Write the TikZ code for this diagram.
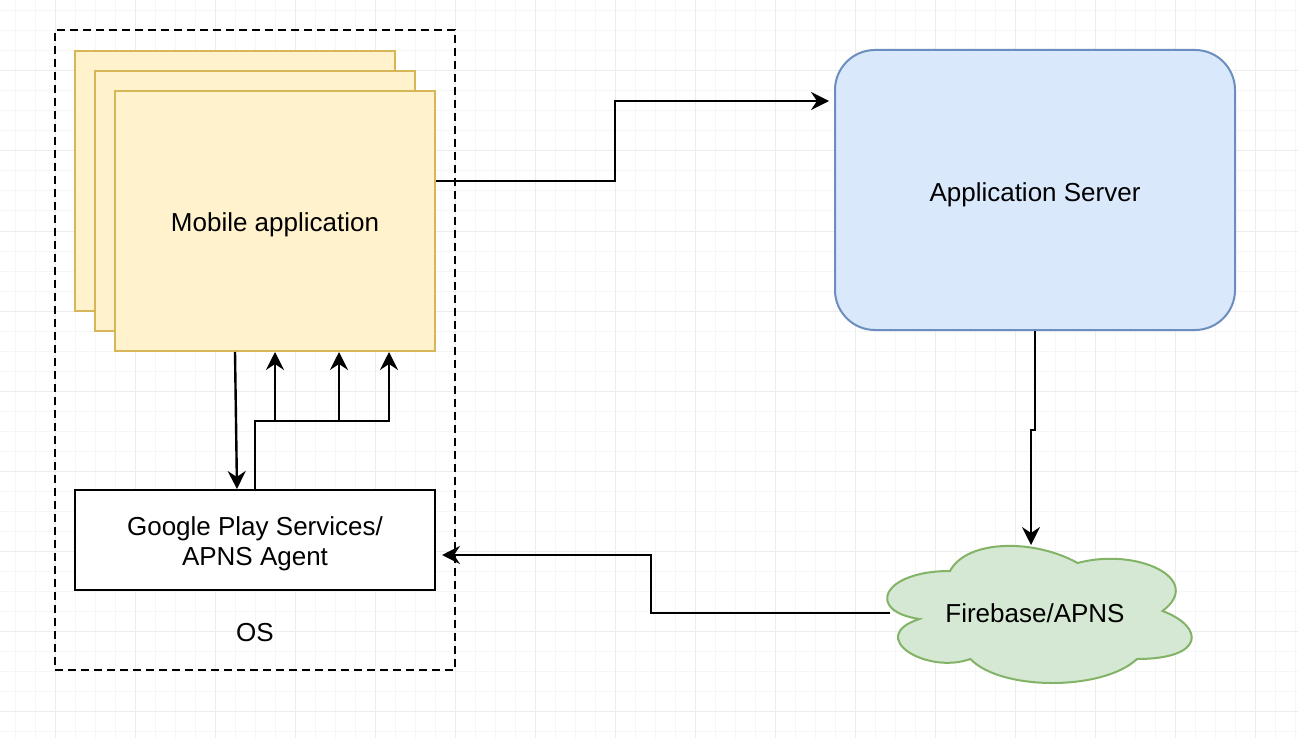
\documentclass[tikz,border=0pt]{standalone}
\usepackage{fontspec}
\setmainfont{Liberation Sans}
\usetikzlibrary{arrows.meta}
\definecolor{appfill}{HTML}{FFF2CC}
\definecolor{appline}{HTML}{D6B656}
\definecolor{srvfill}{HTML}{DAE8FC}
\definecolor{srvline}{HTML}{6C8EBF}
\definecolor{fbfill}{HTML}{D5E8D4}
\definecolor{fbline}{HTML}{82B366}
\begin{document}
\begin{tikzpicture}[x=1pt, y=-1pt,
  every node/.style={font=\fontsize{26}{30}\selectfont},
  oneline/.style={text height=22pt, text depth=0pt},
  app/.style={rectangle, draw=appline, fill=appfill, line width=2pt, minimum width=320pt, minimum height=260pt},
  arr/.style={line width=2.4pt, -{Stealth[length=18pt, width=18pt, inset=6pt]}}]

\useasboundingbox (0,0) rectangle (1298,738);
\fill[white] (0,0) rectangle (1298,738);
\foreach \x in {15,35,...,1295} \draw[gray!7, line width=1pt] (\x,0) -- (\x,738);
\foreach \y in {11,31,...,731} \draw[gray!7, line width=1pt] (0,\y) -- (1298,\y);
\foreach \x in {55,135,...,1295} \draw[gray!15, line width=1pt] (\x,0) -- (\x,738);
\foreach \y in {71,151,...,711} \draw[gray!15, line width=1pt] (0,\y) -- (1298,\y);

\node[rectangle, draw, dashed, dash pattern=on 8pt off 5pt, line width=2pt, minimum width=400pt, minimum height=640pt] (os) at (255,350) {};
\node (oslbl) at (255,633) {OS};

\node[app] (app1) at (235,181) {};
\node[app] (app2) at (255,201) {};
\node[app, oneline] (app3) at (275,221) {Mobile application};

\node[rectangle, draw, line width=2pt, fill=white, minimum width=360pt, minimum height=100pt,
  label={[align=center, yshift=-4pt]center:{Google Play Services/\\APNS Agent}}] (gps) at (255,540) {};

\node[rectangle, draw=srvline, fill=srvfill, line width=2pt, rounded corners=40pt, minimum width=400pt, minimum height=280pt, oneline] (srv) at (1035,190) {Application Server};

% cloud
\draw[draw=fbline, fill=fbfill, line width=2pt] (950,571)
  .. controls (882,571) and (865,611) .. (919.4,619)
  .. controls (865,636.6) and (926.2,675) .. (970.4,659)
  .. controls (1001,691) and (1103,691) .. (1137,659)
  .. controls (1205,659) and (1205,627) .. (1162.5,611)
  .. controls (1205,579) and (1137,547) .. (1077.5,563)
  .. controls (1035,539) and (967,539) .. (950,571) -- cycle;
\node[oneline] (fb) at (1035,611) {Firebase/APNS};
\coordinate (fbw) at (890,613);
\coordinate (fbn) at (1031,545);

\draw[arr] ([xshift=-40pt]app3.south) -- ([xshift=-18pt]gps.north);
\coordinate (j) at (255,421);
\draw[arr] (gps.north) -- (j) -| (app3.south);
\draw[arr] (j) -| ([xshift=64pt]app3.south);
\draw[arr] (j) -| ([xshift=114pt]app3.south);

\draw[arr] ([yshift=40pt]app3.east) -| (615,140) |- ([xshift=-5pt, yshift=89pt]srv.west);
\draw[arr] (srv.south) |- (1031,430) -- (fbn);
\draw[arr] (fbw) -| (651,580) |- ([xshift=6pt, yshift=-15pt]gps.east);
\end{tikzpicture}
\end{document}
